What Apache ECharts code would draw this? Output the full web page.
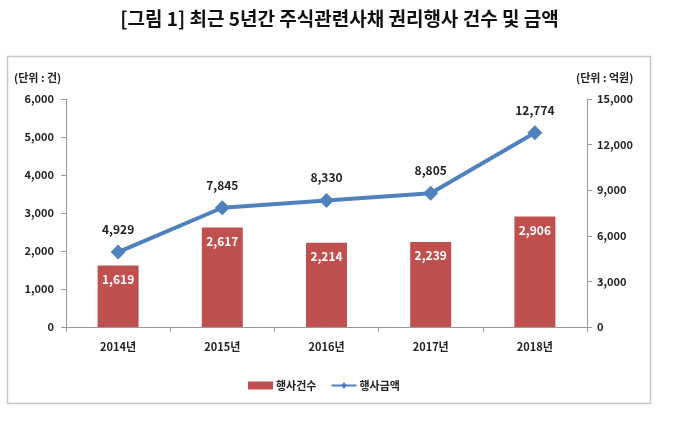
<!DOCTYPE html>
<html><head><meta charset="utf-8">
<script src="https://cdn.jsdelivr.net/npm/echarts@6/dist/echarts.min.js"></script>
<style>html,body{margin:0;padding:0;background:#fff}#c{width:679px;height:429px}</style>
</head><body><div id="c"></div>
<script>
const categories = ['2014년','2015년','2016년','2017년','2018년'];
const counts = [1619, 2617, 2214, 2239, 2906];
const amounts = [4929, 7845, 8330, 8805, 12774];
const leftTicks = [0, 1000, 6000];
const rightTicks = [0, 3000, 15000];
const fmt = v => v.toLocaleString('en-US');
const FF = '"Noto Sans CJK KR", sans-serif';
const chart = echarts.init(document.getElementById('c'));
chart.setOption({
  animation: false,
  title: {text: '[그림 1] 최근 5년간 주식관련사채 권리행사 건수 및 금액', left: 'center', top: 4,
    textStyle: {fontFamily: FF, fontSize: 19, fontWeight: 'bold', color: '#111'}},
  graphic: [
    {type: 'rect', shape: {x: 7.5, y: 56.5, width: 643, height: 347}, style: {fill: 'none', stroke: '#c8c8c8', lineWidth: 1.5}},
    {type: 'text', left: 14, top: 72, style: {text: '(단위 : 건)', font: 'bold 11px "Noto Sans CJK KR"', fill: '#222'}},
    {type: 'text', left: 576, top: 72, style: {text: '(단위 : 억원)', font: 'bold 11px "Noto Sans CJK KR"', fill: '#222'}}
  ],
  legend: {top: 375, left: 243, itemGap: 14, itemWidth: 25, itemHeight: 8,
    textStyle: {fontFamily: FF, fontSize: 11, fontWeight: 'bold', color: '#222', padding: [0, 0, 0, -2]},
    data: [{name: '행사건수', icon: 'rect'}, {name: '행사금액'}]},
  grid: {left: 66, right: 92, top: 99, bottom: 102},
  xAxis: {type: 'category', data: categories,
    axisLine: {lineStyle: {color: '#999'}},
    axisTick: {show: true, alignWithLabel: false, length: 5, lineStyle: {color: '#999'}},
    axisLabel: {fontFamily: FF, fontSize: 11, fontWeight: 'bold', color: '#222', margin: 14}},
  yAxis: [
    {type: 'value', min: leftTicks[0], max: leftTicks[2], interval: leftTicks[1], splitLine: {show: false},
      axisLine: {show: true, lineStyle: {color: '#999'}}, axisTick: {show: true, length: 5, lineStyle: {color: '#999'}},
      axisLabel: {formatter: fmt, fontFamily: FF, fontSize: 11, fontWeight: 'bold', color: '#222', margin: 12}},
    {type: 'value', min: rightTicks[0], max: rightTicks[2], interval: rightTicks[1], splitLine: {show: false},
      axisLine: {show: true, lineStyle: {color: '#999'}}, axisTick: {show: true, length: 5, lineStyle: {color: '#999'}},
      axisLabel: {formatter: fmt, fontFamily: FF, fontSize: 11, fontWeight: 'bold', color: '#222', margin: 10}}
  ],
  series: [
    {name: '행사건수', type: 'bar', data: counts, barWidth: 41, yAxisIndex: 0,
      itemStyle: {color: '#C0504D'},
      label: {show: true, position: 'insideTop', distance: 8, formatter: p => fmt(p.value),
        fontFamily: FF, fontSize: 12, fontWeight: 'bold', color: '#fff'}},
    {name: '행사금액', type: 'line', data: amounts, yAxisIndex: 1,
      symbol: 'diamond', symbolSize: 15, lineStyle: {color: '#4F81BD', width: 4},
      itemStyle: {color: '#4F81BD'},
      label: {show: true, position: 'top', distance: 9, formatter: p => fmt(p.value),
        fontFamily: FF, fontSize: 12, fontWeight: 'bold', color: '#222'}}
  ]
});
</script></body></html>
